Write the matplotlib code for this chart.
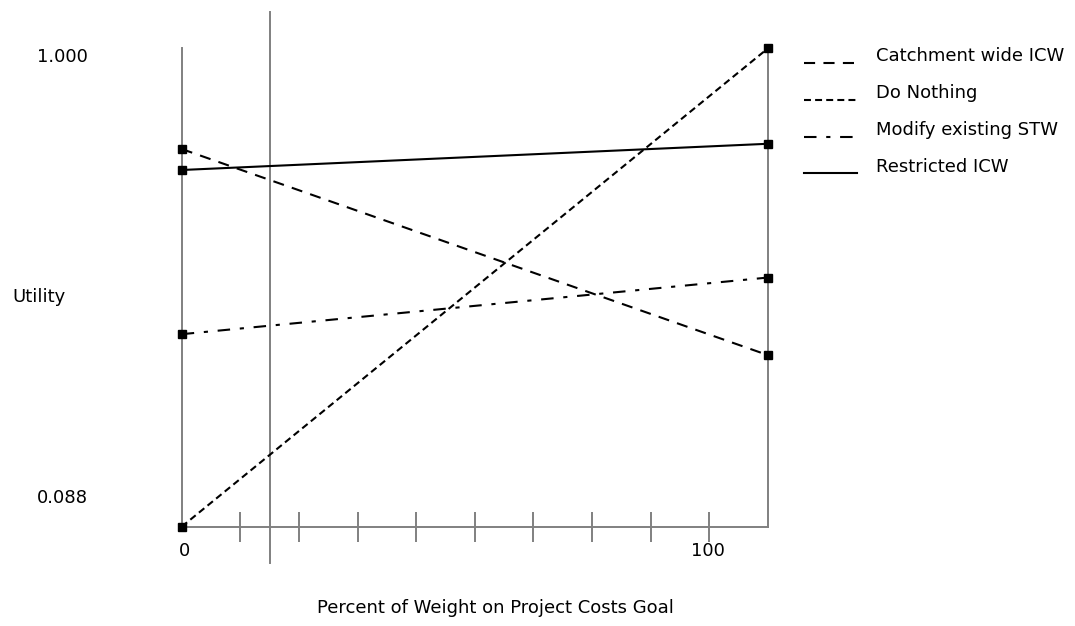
import matplotlib
matplotlib.use('Agg')
import matplotlib.pyplot as plt
from matplotlib.lines import Line2D

# --- dados ---
series = ['Catchment wide ICW', 'Do Nothing', 'Modify existing STW', 'Restricted ICW']
weights = [0, 100]
util_at_0 = [0.808, 0.088, 0.455, 0.768]
util_at_100 = [0.415, 1.000, 0.563, 0.818]
current_weight = 15
tick_weights = [10, 20, 30, 40, 50, 60, 70, 80, 90]
y_min, y_max = 0.088, 1.000
y_labels = ['1.000', '0.088']

plt.rcParams['font.family'] = ['DejaVu Sans']
plt.rcParams['lines.scale_dashes'] = False

W, H = 1075, 626
GRAY = '#808080'
FS = 13

def fx(px):
    return px / W

def fy(py):
    return 1 - py / H

styles = [
    dict(linestyle=(0, (8, 6))),
    dict(linestyle=(0, (5, 3))),
    dict(linestyle=(0, (9, 7, 3, 7))),
    dict(linestyle='-'),
]

fig = plt.figure(figsize=(W / 100, H / 100), dpi=100)
x0, x1, ytop, ybot = 181.7, 768.0, 48.3, 526.7
ax = fig.add_axes([fx(x0), fy(ybot), (x1 - x0) / W, (ybot - ytop) / H])
ax.set_xlim(weights[0], weights[1])
ax.set_ylim(y_min, y_max)

for side in ['left', 'right', 'bottom']:
    ax.spines[side].set_color(GRAY)
    ax.spines[side].set_linewidth(1.4)
ax.spines['top'].set_visible(False)

ax.set_xticks(tick_weights)
ax.tick_params(axis='x', direction='inout', length=21.6, width=1.4,
               color=GRAY, labelbottom=False)
ax.set_yticks([])

# linha do peso actual
h = ybot - ytop
ax.axvline(current_weight, ymin=-36.3 / h, ymax=1 + 36.6 / h,
           color=GRAY, lw=1.4, clip_on=False)

for name, a, b, st in zip(series, util_at_0, util_at_100, styles):
    ax.plot(weights, [a, b], color='black', lw=1.5, marker='s', ms=5.5,
            clip_on=False, zorder=3, **st)

# legenda manual
leg_y = [62.7, 100.0, 136.7, 173.3]
for name, st, yy in zip(series, styles, leg_y):
    fig.add_artist(Line2D([fx(804), fx(857)], [fy(yy), fy(yy)],
                          transform=fig.transFigure, color='black', lw=1.5, **st))
    fig.text(fx(876), fy(yy - 1.5), name, fontsize=FS, ha='left', va='baseline')

# textos dos eixos
fig.text(fx(37), fy(62.5), y_labels[0], fontsize=FS, ha='left', va='baseline')
fig.text(fx(37), fy(503), y_labels[1], fontsize=FS, ha='left', va='baseline')
fig.text(fx(12), fy(301.7), 'Utility', fontsize=FS, ha='left', va='baseline')
fig.text(fx(184), fy(556), '0', fontsize=FS, ha='center', va='baseline')
fig.text(fx(708), fy(556), '100', fontsize=FS, ha='center', va='baseline')
fig.text(fx(495), fy(613), 'Percent of Weight on Project Costs Goal',
         fontsize=FS, ha='center', va='baseline')

fig.savefig('out.png', dpi=100, facecolor='white')
